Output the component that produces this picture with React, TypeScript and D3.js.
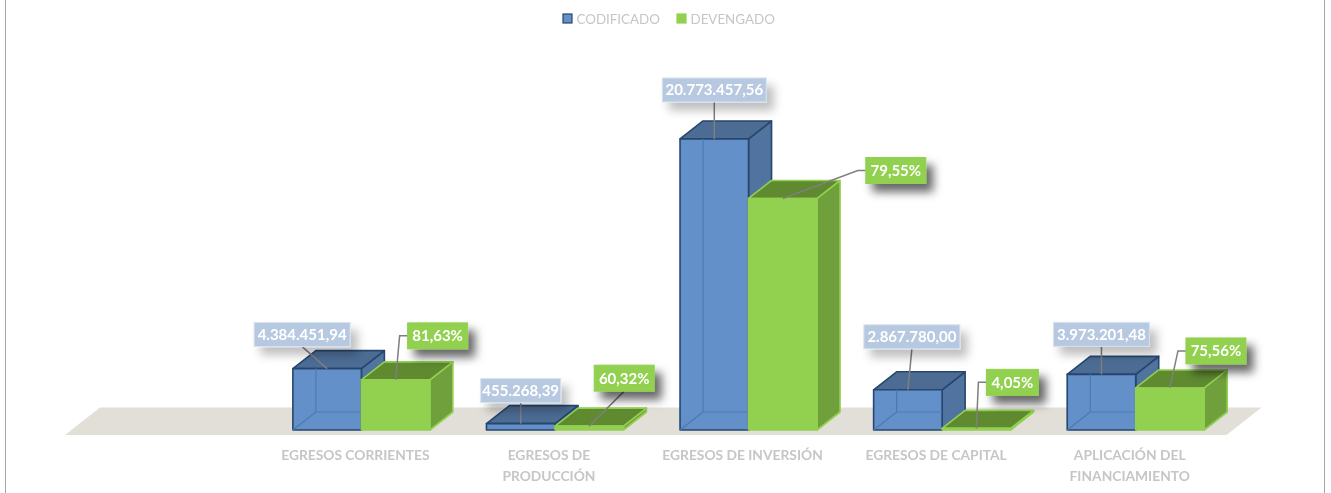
import React, { useEffect, useRef } from "react";
import * as d3 from "d3";

// first slot is empty in the original chart
const categories = [
  "",
  "EGRESOS CORRIENTES",
  "EGRESOS DE PRODUCCIÓN",
  "EGRESOS DE INVERSIÓN",
  "EGRESOS DE CAPITAL",
  "APLICACIÓN DEL FINANCIAMIENTO",
];
const categoryRows = [
  ["EGRESOS CORRIENTES"],
  ["EGRESOS DE", "PRODUCCIÓN"],
  ["EGRESOS DE INVERSIÓN"],
  ["EGRESOS DE CAPITAL"],
  ["APLICACIÓN DEL", "FINANCIAMIENTO"],
];
const seriesNames = ["CODIFICADO", "DEVENGADO"];
const codificado = [4384451.94, 455268.39, 20773457.56, 2867780.0, 3973201.48];
const devengado = [3579000, 274600, 16525000, 116100, 3002000];
const codificadoLabels = ["4.384.451,94", "455.268,39", "20.773.457,56", "2.867.780,00", "3.973.201,48"];
const devengadoLabels = ["81,63%", "60,32%", "79,55%", "4,05%", "75,56%"];

// label box centre relative to the top of its bar
const blueOffsets = [[-25, -34], [0, -33], [0, -49], [4, -53], [0, -40]];
const greenOffsets = [[42, -44], [35, -48], [113, -28], [36, -46], [46, -37]];

const width = 1331;
const height = 493;
const DX = 23;
const DY = -18;
const BAR_W = 68.5;
const BAR_SHIFT = 6;

const BLUE = { front: "#6390c8", top: "#4c6c94", side: "#50739f", stroke: "#26466f", inner: "#4a7ab5" };
const GREEN = { front: "#92d050", top: "#5f8a30", side: "#70a03c", stroke: "#92d050" };
const FONT = "Lato, 'Open Sans', sans-serif";

export default function App() {
  const ref = useRef<SVGSVGElement | null>(null);

  useEffect(() => {
    const svg = d3.select(ref.current);
    svg.selectAll("*").remove();

    const x = d3.scaleBand().domain(categories).range([65, 1226.5]);
    const y = d3.scaleLinear().domain([0, 21000000]).range([430, 135.8]);

    const defs = svg.append("defs");
    const addShadow = (id: string, opacity: number) => {
      defs
        .append("filter")
        .attr("id", id)
        .attr("x", "-30%")
        .attr("y", "-60%")
        .attr("width", "170%")
        .attr("height", "240%")
        .append("feDropShadow")
        .attr("dx", 7)
        .attr("dy", 8)
        .attr("stdDeviation", 5)
        .attr("flood-color", "#000")
        .attr("flood-opacity", opacity);
    };
    addShadow("shadow", 0.6);
    addShadow("lightShadow", 0.25);

    // chart frame
    svg.append("rect")
      .attr("x", 5.5)
      .attr("y", -5)
      .attr("width", 1319)
      .attr("height", height + 10)
      .attr("fill", "#fff")
      .attr("stroke", "#a6a6a6")
      .attr("stroke-width", 1);

    // floor
    const floorLeft = x.range()[0];
    const floorRight = x.range()[1];
    svg.append("path")
      .attr("d", `M${floorLeft},435L${floorLeft + 35},407.5L${floorRight + 35},407.5L${floorRight},435Z`)
      .attr("fill", "#e2dfd8");

    const line = d3.line();

    const drawBox = (x0: number, top: number, c: any, see: boolean) => {
      const base = y(0);
      const x1 = x0 + BAR_W;
      const face = (pts: [number, number][], fill: string) =>
        svg.append("path")
          .attr("d", line(pts) + "Z")
          .attr("fill", fill)
          .attr("stroke", c.stroke)
          .attr("stroke-width", 1.6)
          .attr("stroke-linejoin", "round");

      face([[x1, top], [x1 + DX, top + DY], [x1 + DX, base + DY], [x1, base]], c.side);
      face([[x0, top], [x0 + DX, top + DY], [x1 + DX, top + DY], [x1, top]], c.top);
      face([[x0, top], [x1, top], [x1, base], [x0, base]], c.front);

      if (see) {
        // back edges show through the blue box
        const bx = x0 + DX;
        const by = base + DY;
        const inner = [
          [[bx, top], [bx, by]],
          [[bx, by], [x1, by]],
          [[bx, by], [x0, base]],
        ] as [number, number][][];
        inner.forEach(seg => {
          if (by <= top) return;
          svg.append("path")
            .attr("d", line(seg))
            .attr("fill", "none")
            .attr("stroke", c.inner)
            .attr("stroke-width", 1.2);
        });
      }
    };

    const cats = categories.slice(1);

    cats.forEach((cat, i) => {
      const left = (x(cat) as number) + x.bandwidth() / 2 + BAR_SHIFT - BAR_W;
      drawBox(left, y(codificado[i]), BLUE, true);
      drawBox(left + BAR_W, y(devengado[i]), GREEN, false);
    });

    // leader lines and value labels
    const drawLabel = (
      cx: number,
      top: number,
      off: number[],
      text: string,
      w: number,
      h: number,
      blue: boolean,
      elbow: boolean
    ) => {
      const bx = cx + off[0];
      const by = top + off[1];
      const pts: [number, number][] = elbow
        ? [[bx - w / 2, by], [bx - w / 2 - 8, by], [cx, top]]
        : [[bx, by + h / 2], [cx, top]];
      svg.append("path")
        .attr("d", line(pts))
        .attr("fill", "none")
        .attr("stroke", "#7f7f7f")
        .attr("stroke-width", 1.5);
      svg.append("rect")
        .attr("x", bx - w / 2)
        .attr("y", by - h / 2)
        .attr("width", w)
        .attr("height", h)
        .attr("fill", blue ? "#b7c9e0" : "#92d050")
        .attr("stroke", blue ? "#d7e2f0" : "#92d050")
        .attr("stroke-width", 1)
        .attr("filter", blue ? "url(#lightShadow)" : "url(#shadow)");
      svg.append("text")
        .attr("x", bx)
        .attr("y", by + 5.5)
        .attr("text-anchor", "middle")
        .attr("font-family", FONT)
        .attr("font-size", 15)
        .attr("font-weight", 700)
        .attr("fill", "#fff")
        .text(text);
    };

    cats.forEach((cat, i) => {
      const centre = (x(cat) as number) + x.bandwidth() / 2 + BAR_SHIFT;
      const n1 = codificadoLabels[i].length;
      const n2 = devengadoLabels[i].length;
      drawLabel(centre - BAR_W / 2, y(codificado[i]), blueOffsets[i], codificadoLabels[i], n1 * 8, 24, true, false);
      drawLabel(
        centre + BAR_W / 2,
        y(devengado[i]),
        greenOffsets[i],
        devengadoLabels[i],
        n2 * 8 + 12,
        26,
        false,
        i !== 1
      );
    });

    // category labels
    cats.forEach((cat, i) => {
      const t = svg.append("text")
        .attr("text-anchor", "middle")
        .attr("font-family", FONT)
        .attr("font-size", 13.8)
        .attr("font-weight", 700)
        .attr("fill", "#c6c6c6");
      categoryRows[i].forEach((r, k) => {
        t.append("tspan")
          .attr("x", (x(cat) as number) + x.bandwidth() / 2)
          .attr("y", 460 + k * 21)
          .text(r);
      });
    });

    // legend
    const legendX = d3.scaleOrdinal<string, number>().domain(seriesNames).range([563, 677]);
    seriesNames.forEach((name, i) => {
      const c = i === 0 ? BLUE : GREEN;
      svg.append("rect")
        .attr("x", legendX(name))
        .attr("y", 14)
        .attr("width", 9)
        .attr("height", 9)
        .attr("fill", c.front)
        .attr("stroke", c.stroke)
        .attr("stroke-width", 1.2);
      svg.append("text")
        .attr("x", (legendX(name) as number) + 13.5)
        .attr("y", 23.5)
        .attr("font-family", FONT)
        .attr("font-size", 13.35)
        .attr("fill", "#c6c6c6")
        .text(name);
    });
  }, []);

  return (
    <svg
      ref={ref}
      width={width}
      height={height}
      style={{ position: "absolute", left: 0, top: 0, background: "#fff", filter: "blur(0.35px)" }}
    />
  );
}
